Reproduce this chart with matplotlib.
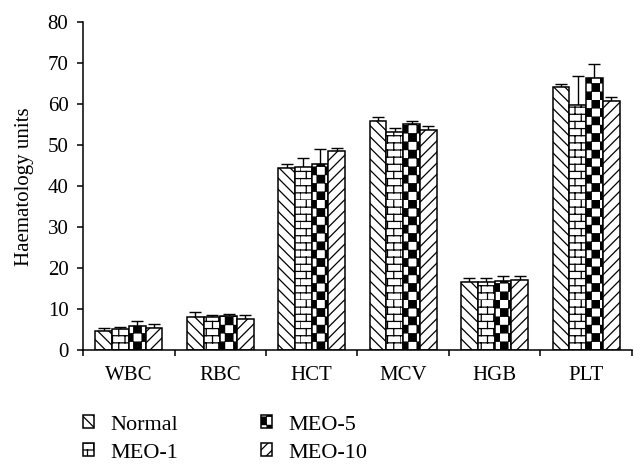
import warnings
warnings.filterwarnings("ignore")
import numpy as np
import matplotlib
matplotlib.use("Agg")
import matplotlib.pyplot as plt
import matplotlib.hatch as mhatch
from matplotlib.path import Path

# ---------------- data ----------------
categories = ["WBC", "RBC", "HCT", "MCV", "HGB", "PLT"]
series = ["Normal", "MEO-1", "MEO-5", "MEO-10"]
normal = [4.7, 8.1, 44.5, 55.9, 16.7, 64.1]
meo1 = [5.1, 8.0, 44.7, 53.1, 16.7, 59.8]
meo5 = [6.0, 8.4, 45.5, 55.2, 16.8, 66.4]
meo10 = [5.5, 7.5, 48.5, 53.7, 17.1, 60.9]
err_normal = [0.8, 1.1, 1.0, 0.9, 0.9, 0.9]
err_meo1 = [0.6, 0.7, 2.3, 1.2, 0.8, 7.1]
err_meo5 = [1.1, 0.5, 3.5, 0.8, 1.2, 3.4]
err_meo10 = [0.9, 1.0, 0.8, 1.0, 1.1, 0.9]
yticks = [0, 10, 20, 30, 40, 50, 60, 70, 80]

# ---------------- custom hatches ----------------
class BrickHatch(mhatch.HatchPatternBase):
    def __init__(self, hatch, density):
        self.on = hatch.count('B') > 0
        self.rows = 14
        self.cols = 8
        self.num_vertices = (self.rows * 2 + self.rows * self.cols * 2) if self.on else 0

    def set_vertices_and_codes(self, vertices, codes):
        k = 0
        h = 1.0 / self.rows
        w = 1.0 / self.cols
        for i in range(self.rows):
            y0 = i * h
            vertices[k] = (0.0, y0); codes[k] = Path.MOVETO; k += 1
            vertices[k] = (1.0, y0); codes[k] = Path.LINETO; k += 1
            off = 0.5 * w if i % 2 else 0.0
            for j in range(self.cols):
                xx = j * w + off
                vertices[k] = (xx, y0); codes[k] = Path.MOVETO; k += 1
                vertices[k] = (xx, y0 + h); codes[k] = Path.LINETO; k += 1


class CheckerHatch(mhatch.HatchPatternBase):
    def __init__(self, hatch, density):
        self.on = hatch.count('C') > 0
        self.n = 12
        self.num_vertices = (self.n * self.n // 2) * 5 if self.on else 0

    def set_vertices_and_codes(self, vertices, codes):
        k = 0
        s = 1.0 / self.n
        inset = 0.004
        for i in range(self.n):
            for j in range(self.n):
                if (i + j) % 2 == 0:
                    x0, y0 = j * s + inset, i * s + inset
                    x1, y1 = (j + 1) * s - inset, (i + 1) * s - inset
                    pts = [(x0, y0), (x1, y0), (x1, y1), (x0, y1), (x0, y0)]
                    cds = [Path.MOVETO, Path.LINETO, Path.LINETO, Path.LINETO, Path.CLOSEPOLY]
                    for p, c in zip(pts, cds):
                        vertices[k] = p
                        codes[k] = c
                        k += 1


mhatch._hatch_types.append(BrickHatch)
mhatch._hatch_types.append(CheckerHatch)

plt.rcParams['font.family'] = ['Liberation Serif', 'DejaVu Serif']
plt.rcParams['hatch.linewidth'] = 0.9

fig = plt.figure(figsize=(6.44, 4.72), dpi=100)
ax = fig.add_axes([0.129, 0.258, 0.852, 0.695])

values = [normal, meo1, meo5, meo10]
errors = [err_normal, err_meo1, err_meo5, err_meo10]
hatches = ['\\\\\\', 'B', 'C', '///']

x = np.arange(len(categories))
bw = 0.183
handles = []
for k, (vals, errs, h, name) in enumerate(zip(values, errors, hatches, series)):
    pos = x + (k - 1.5) * bw
    b = ax.bar(pos, vals, width=bw, facecolor='white', edgecolor='black',
               linewidth=1.1, hatch=h, label=name, zorder=2)
    ax.errorbar(pos, vals, yerr=[np.zeros(len(vals)), errs], fmt='none',
                ecolor='black', elinewidth=1.0, capsize=4, capthick=1.0, zorder=1)
    handles.append(b)

ax.set_xlim(-0.5, len(categories) - 0.5)
ax.set_ylim(0, 80)
ax.set_yticks(yticks)
ax.set_yticklabels([str(v) for v in yticks], fontsize=15)
ax.set_xticks(np.arange(len(categories) + 1) - 0.5)
ax.set_xticklabels([])
ax.set_xticks(x, minor=True)
ax.set_xticklabels(categories, minor=True, fontsize=15)
ax.tick_params(axis='x', which='minor', length=0, pad=11)
ax.tick_params(axis='x', which='major', length=4.5, width=1.1, direction='out')
ax.tick_params(axis='y', length=4.5, width=1.1, direction='out', pad=6)
for s in ['top', 'right']:
    ax.spines[s].set_visible(False)
for s in ['left', 'bottom']:
    ax.spines[s].set_linewidth(1.1)
ax.set_ylabel('Haematology units', fontsize=15, labelpad=10)

leg = fig.legend(handles=handles, labels=series, loc='upper left',
                 bbox_to_anchor=(0.129, 0.12), ncol=2, frameon=False,
                 fontsize=16, handlelength=0.5, handleheight=0.5,
                 handletextpad=0.75, labelspacing=0.4, columnspacing=3.7,
                 borderpad=0.0, borderaxespad=0.0)

fig.savefig('out.png', dpi=100)
